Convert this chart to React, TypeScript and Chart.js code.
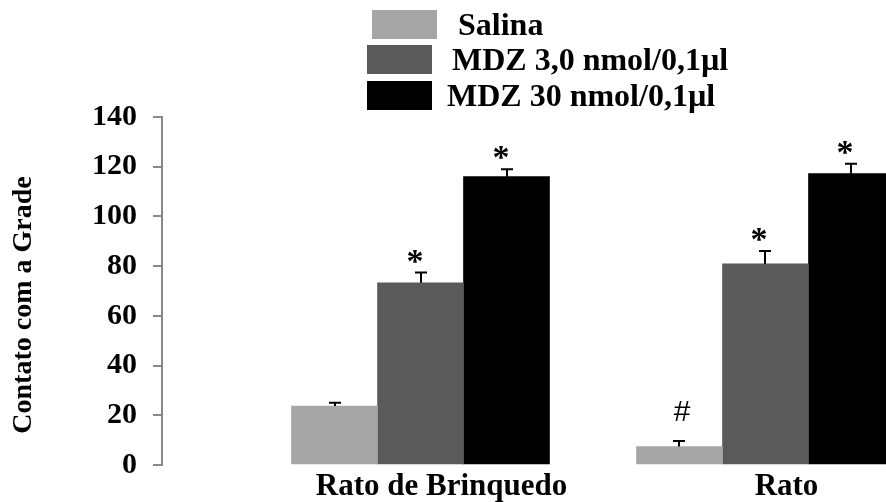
import React, { useEffect, useRef } from 'react';
import { Chart, registerables } from 'chart.js';

Chart.register(...registerables);

// ---- data ----
const categories = ['Rato de Brinquedo', 'Rato'];
const groupPositions = [1, 2];
const seriesNames = ['Salina', 'MDZ 3,0 nmol/0,1µl', 'MDZ 30 nmol/0,1µl'];
const salina = [23.7, 7.4];
const mdz3 = [73.3, 80.9];
const mdz30 = [116.0, 117.2];
const salinaErr = [1.3, 2.3];
const mdz3Err = [4.1, 5.2];
const mdz30Err = [3.0, 4.0];
const salinaMarks = ['', '#'];
const mdz3Marks = ['*', '*'];
const mdz30Marks = ['*', '*'];
const yTickValues = [0, 20, 40, 60, 80, 100, 120, 140];
const yTitle = 'Contato com a Grade';

const colors = ['#a6a6a6', '#5a5a5a', '#000000'];

const SERIF = '"Liberation Serif", "Times New Roman", serif';

const legendPlugin = {
  id: 'staggeredLegend',
  afterDraw(chart: any, _args: any, opts: any) {
    const ctx = chart.ctx;
    ctx.save();
    ctx.font = `bold 32px ${SERIF}`;
    ctx.textBaseline = 'alphabetic';
    ctx.textAlign = 'left';
    chart.data.datasets.forEach((ds: any, i: number) => {
      const it = opts.items[i];
      ctx.fillStyle = ds.backgroundColor;
      ctx.fillRect(it.boxX, it.boxY, opts.boxW, opts.boxH);
      ctx.fillStyle = '#000';
      ctx.fillText(ds.label, it.textX, it.baseline);
    });
    ctx.restore();
  },
};

const errorBarPlugin = {
  id: 'errorBarsMarks',
  afterDatasetsDraw(chart: any) {
    const ctx = chart.ctx;
    const yScale = chart.scales.y;
    ctx.save();
    chart.data.datasets.forEach((ds: any, i: number) => {
      const meta = chart.getDatasetMeta(i);
      meta.data.forEach((el: any, j: number) => {
        const v = ds.data[j];
        const e = ds.errors[j];
        const yTop = yScale.getPixelForValue(v);
        const yErr = yScale.getPixelForValue(v + e);
        const x = Math.round(el.x);
        ctx.strokeStyle = '#000';
        ctx.lineWidth = 2;
        ctx.beginPath();
        ctx.moveTo(x, yTop);
        ctx.lineTo(x, yErr);
        ctx.moveTo(x - 6, yErr);
        ctx.lineTo(x + 6, yErr);
        ctx.stroke();
        const m = ds.marks[j];
        if (m === '*') {
          ctx.font = `bold 34px ${SERIF}`;
          ctx.textAlign = 'center';
          ctx.textBaseline = 'alphabetic';
          ctx.fillStyle = '#000';
          ctx.fillText(m, x - 6, yErr - 1);
        } else if (m === '#') {
          ctx.font = '30px "Liberation Sans", Arial, sans-serif';
          ctx.textAlign = 'center';
          ctx.textBaseline = 'alphabetic';
          ctx.fillStyle = '#000';
          ctx.fillText(m, x + 3, yErr - 20);
        }
      });
    });
    ctx.restore();
  },
};

export default function App() {
  const ref = useRef<HTMLCanvasElement | null>(null);

  useEffect(() => {
    if (!ref.current) return;
    const chart = new Chart(ref.current, {
      type: 'bar',
      data: {
        labels: groupPositions,
        datasets: [
          { label: seriesNames[0], data: salina, backgroundColor: colors[0], errors: salinaErr, marks: salinaMarks } as any,
          { label: seriesNames[1], data: mdz3, backgroundColor: colors[1], errors: mdz3Err, marks: mdz3Marks } as any,
          { label: seriesNames[2], data: mdz30, backgroundColor: colors[2], errors: mdz30Err, marks: mdz30Marks } as any,
        ],
      },
      options: {
        responsive: false,
        animation: false,
        devicePixelRatio: 1,
        layout: { padding: { top: 117, left: 0, right: 0, bottom: 0 } },
        datasets: {
          bar: { barThickness: 86, borderWidth: 0 },
        },
        plugins: {
          legend: { display: false },
          tooltip: { enabled: false },
          staggeredLegend: {
            boxW: 65,
            boxH: 29,
            items: [
              { boxX: 372, boxY: 10, textX: 458, baseline: 34.5 },
              { boxX: 367, boxY: 45, textX: 452, baseline: 70 },
              { boxX: 367, boxY: 81, textX: 447, baseline: 106 },
            ],
          },
        } as any,
        scales: {
          x: {
            type: 'linear',
            min: 0.2507,
            max: 2.3493,
            offset: false,
            grid: { display: false, drawTicks: false },
            border: { display: false },
            afterBuildTicks: (scale: any) => {
              scale.ticks = groupPositions.map((v) => ({ value: v }));
            },
            afterFit: (scale: any) => {
              scale.height = 37;
            },
            ticks: {
              autoSkip: false,
              maxRotation: 0,
              padding: 3,
              labelOffset: 21,
              color: '#000',
              font: { family: SERIF, size: 31, weight: 'bold' },
              callback: (_v: any, i: number) => categories[i],
            },
          },
          y: {
            min: 0,
            max: 140,
            afterBuildTicks: (scale: any) => {
              scale.ticks = yTickValues.map((v) => ({ value: v }));
            },
            afterFit: (scale: any) => {
              scale.width = 162;
            },
            grid: {
              drawOnChartArea: false,
              drawTicks: true,
              tickLength: 9,
              color: '#888',
              lineWidth: 2,
            },
            border: { display: true, color: '#888', width: 2 },
            ticks: {
              padding: 16,
              color: '#000',
              font: { family: SERIF, size: 30, weight: 'bold' },
            },
            title: {
              display: true,
              text: yTitle + '\u00a0\u00a0\u00a0\u00a0',
              color: '#000',
              font: { family: SERIF, size: 28, weight: 'bold' },
              padding: { top: 7, bottom: 0 },
            },
          },
        } as any,
      },
      plugins: [legendPlugin, errorBarPlugin],
    } as any);
    return () => chart.destroy();
  }, []);

  return (
    <div style={{ position: 'fixed', left: 0, top: 0, width: 886, height: 502, overflow: 'hidden', background: '#fff' }}>
      <canvas ref={ref} width={886} height={502} style={{ width: 886, height: 502, display: 'block' }} />
    </div>
  );
}
